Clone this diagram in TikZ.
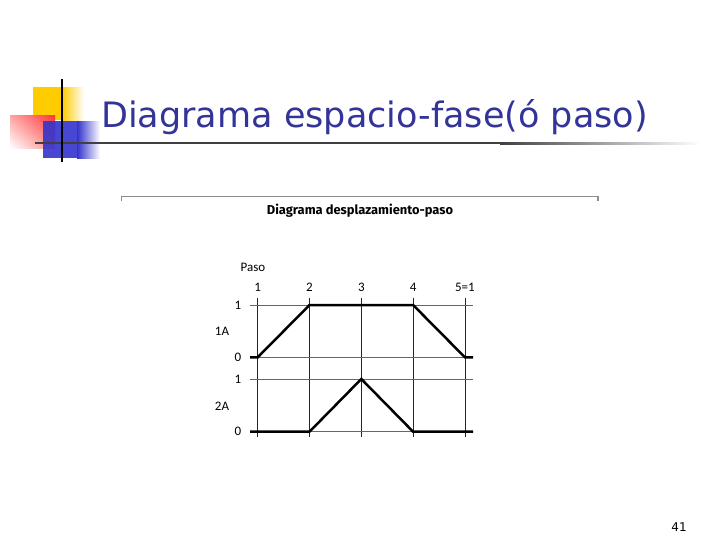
\documentclass[tikz,border=0pt]{standalone}
\usepackage{fontspec}
\usepackage{xcolor}
\usepackage{tikz}
\usetikzlibrary{positioning}
\usetikzlibrary{calc}
\usetikzlibrary{shadings}
\newfontfamily\titlefont{DejaVu Sans}
\newfontfamily\chartfont{Carlito}
\newfontfamily\headfont{Fira Sans}
\definecolor{slideblue}{RGB}{51,51,153}
\definecolor{logoyellow}{RGB}{255,204,0}
\definecolor{logored}{RGB}{255,51,51}
\definecolor{logoblue}{RGB}{51,51,204}
\tikzstyle{gridline}=[draw,black!85,line width=0.8pt]
\tikzstyle{levelline}=[draw,black!60,line width=0.8pt]
\tikzstyle{signal}=[draw,line width=2.5pt,line join=miter]
\tikzstyle{lbl}=[font=\chartfont\fontsize{13}{13}\selectfont,inner sep=0pt]
\tikzstyle{boxline}=[draw,black!45,line width=1.3pt]

\begin{document}
\begin{tikzpicture}[x=1pt,y=-1pt]
\useasboundingbox (0,0) rectangle (728,546);

 %logo
 \fill[logoyellow] (33,87) rectangle (62,120);
 \shade[left color=logoyellow, right color=white] (62,87) rectangle (84,120);
 \shade[upper right=logored, upper left=logored!45, lower right=logored!55, lower left=white] (10,115) rectangle (55,148);
 \fill[logoblue, fill opacity=0.9] (43,121) rectangle (77,158);
 \shade[left color=logoblue, right color=white] (77,121) rectangle (100,158);
 \fill[black!75] (35,142) rectangle (500,144);
 \shade[left color=black!75, right color=white] (500,142) rectangle (700,144);
 \draw[black, line width=2pt] (62,79) -- (62,162);

 \node[anchor=base west, inner sep=0pt, text=slideblue, font=\titlefont\fontsize{35}{35}\selectfont] (title) at (101,127) {Diagrama espacio-fase(ó paso)};

 %box
 \coordinate (boxl) at (121.7,196.7);
 \coordinate (boxr) at (598,196.7);
 \path[boxline] ($(boxl)+(0,4)$) -- (boxl) -- (boxr) -- ($(boxr)+(0,4)$);
 \node[font=\headfont\bfseries\fontsize{12.9}{12.9}\selectfont, inner sep=0pt] (charttitle) at (360,211) {Diagrama desplazamiento-paso};

 %pasos
  \def\dx{257.7};
  \def\u{51.8};

   \foreach \i/\name/\label in {1/s1/1, 2/s2/2, 3/s3/3, 4/s4/4, 5/s5/{5=1}}
          \node[lbl] (\name) at (\dx+\i*\u-\u, 287) {\label};

\node[lbl] (paso) at (253,267) {Paso};

  \foreach \name in {s1,s2,s3,s4,s5}
         \path[gridline] ($(\name)+(0,11)$) -- ($(\name)+(0,150)$);

 %niveles
   \foreach \y/\name/\label in {305/h1/1, 357.3/l1/0, 379/h2/1, 431.7/l2/0}
          \node[lbl] (\name) at (238,\y) {\label};

\node[lbl] (rowA) at (222,331) {1A};
\node[lbl] (rowB) at (222,406) {2A};

  \foreach \name in {h1,l1,h2,l2}
         \path[levelline] ($(\name)+(12,0)$) -- ($(\name)+(235,0)$);

 %1A
 \path[signal] ($(l1)+(12,0)$) -- (s1 |- l1) -- (s2 |- h1) -- (s4 |- h1) -- (s5 |- l1) -- ($(l1)+(235,0)$);

 %2A
 \path[signal] ($(l2)+(12,0)$) -- (s2 |- l2) -- (s3 |- h2) -- (s4 |- l2) -- ($(l2)+(235,0)$);

\node[font=\titlefont\fontsize{12}{12}\selectfont] (pagenum) at (679,527) {41};

   \end{tikzpicture}
\end{document}
